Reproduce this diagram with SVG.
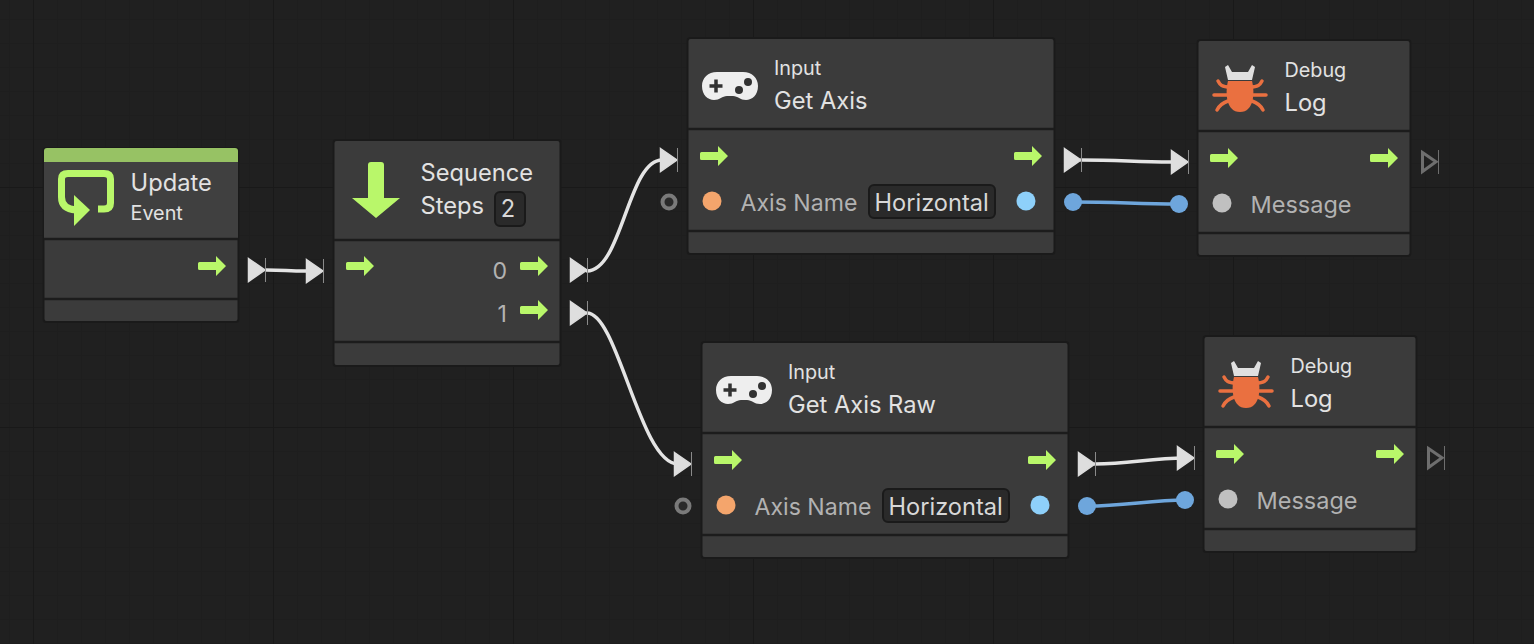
<svg xmlns="http://www.w3.org/2000/svg" width="1534" height="644" viewBox="0 0 1534 644">
<style>
text{font-family:Inter,"Noto Sans","Liberation Sans",sans-serif}
.card{fill:#3b3b3b;stroke:#1a1a1a;stroke-width:2}
.div{stroke:#1c1c1c;stroke-width:2.500}
.bar{fill:#97c264}
.t1{font-size:23.700px;fill:#e2e2e2}
.t2{font-size:19.800px;fill:#e2e2e2}
.lab{font-size:23.100px;fill:#b2b2b2}
.msg{font-size:23.500px;fill:#b2b2b2}
.field{fill:#2a2a2a;stroke:#1a1a1a;stroke-width:2}
.val{font-size:23.600px;fill:#d8d8d8}
.wire{fill:none;stroke:#e4e4e4;stroke-width:3.500;stroke-linecap:round}
.wblue{fill:none;stroke:#6ea6dc;stroke-width:3.500;stroke-linecap:round}
.soft{filter:url(#soft)}
</style>
<defs>
<filter id="soft" x="-30%" y="-30%" width="160%" height="160%"><feGaussianBlur stdDeviation="0.600"/></filter>
<pattern id="minor" x="33" y="43" width="24" height="24" patternUnits="userSpaceOnUse"><path d="M0.500 0V24M0 0.500H24" stroke="#1e1e1e" stroke-width="1" fill="none"/></pattern>
<path id="exec" d="M1.500-4H18V-10L28 0 18 10V4H1.500Q0 4 0 2.500V-2.500Q0-4 1.500-4Z" fill="#b9f76a"/>
<g id="ctrl"><path d="M0.500-11.500L17 0 0.500 11.500Z" fill="#dedede" stroke="#dedede" stroke-width="1.500" class="soft"/><path d="M17.500-12V12" stroke="#8a8a8a" stroke-width="1" fill="none"/></g>
<g id="ctrlOpen"><path d="M1.500-9.500L15-0.200 1.500 9.500Z" fill="none" stroke="#6e6e6e" stroke-width="3" class="soft"/><path d="M17.500-12V12" stroke="#6e6e6e" stroke-width="1" fill="none"/></g>
<circle id="ring" r="6.500" fill="#2a2a2a" stroke="#7a7a7a" stroke-width="4" class="soft"/>
<circle id="blue" r="9" fill="#6ea6dc" class="soft"/>
<g id="pad" class="soft"><path d="M15 0H41C50 0 56 6 56 14 56 23 50 28 44 28 38 28 36 24 31 24H25C20 24 18 28 12 28 6 28 0 23 0 14 0 6 6 0 15 0Z" fill="#eeeeee"/><path d="M14 7.500V20.500M7.500 14H20.500" stroke="#333" stroke-width="3.500" fill="none"/><circle cx="46" cy="10" r="4" fill="#333"/><circle cx="37" cy="18" r="4" fill="#333"/></g>
<g id="bug" class="soft"><path d="M14 2L18 9H34L38 2 41 4 38 17H14L11 4Z" fill="#e0e0e0"/><path d="M14 18H38C41 30 40 49 26 49 12 49 11 30 14 18Z" fill="#ea7040"/><path d="M16 24C8 24 6 22 4 18M36 24C44 24 46 22 48 18M0 32H52M14 38C8 40 5 43 3 47M38 38C44 40 47 43 49 47" stroke="#ea7040" stroke-width="3.500" fill="none" stroke-linecap="round"/></g>
</defs>
<rect width="1534" height="644" fill="#202020"/>
<rect width="1534" height="644" fill="url(#minor)"/>
<path d="M33.500 0V644M273.500 0V644M513.500 0V644M753.500 0V644M993.500 0V644M1233.500 0V644M1473.500 0V644M0 187.500H1534M0 427.500H1534" stroke="#191919" stroke-width="1" fill="none"/>

<g id="connectors">
<path class="wire" d="M266 270C285 270 287 271 306 271"/>
<use href="#ctrl" x="248" y="270"/><use href="#ctrl" x="306" y="271"/>
<path class="wire" d="M587 271C622 271 628 160 662 160"/>
<use href="#ctrl" x="570" y="270"/><use href="#ctrl" x="660" y="160"/>
<path class="wire" d="M587 313C618 313 640 464 678 464"/>
<use href="#ctrl" x="570" y="313"/><use href="#ctrl" x="674" y="464"/>
<use href="#ring" x="669" y="202"/><use href="#ring" x="683" y="506"/>
<path class="wire" d="M1081 160C1120 160 1135 162 1171 162"/>
<use href="#ctrl" x="1064" y="160"/><use href="#ctrl" x="1171" y="162"/>
<path class="wblue" d="M1073 202C1120 202 1135 204 1179 204"/>
<use href="#blue" x="1073" y="202"/><use href="#blue" x="1179" y="204"/>
<use href="#ctrlOpen" x="1421" y="162"/>
<path class="wire" d="M1095 464C1130 464 1150 458 1185 458"/>
<use href="#ctrl" x="1078" y="464"/><use href="#ctrl" x="1177" y="458"/>
<path class="wblue" d="M1087 506C1125 506 1150 500 1185 500"/>
<use href="#blue" x="1087" y="506"/><use href="#blue" x="1185" y="500"/>
<use href="#ctrlOpen" x="1427" y="458"/>
</g>

<g id="node-update">
<rect class="card" x="43.500" y="148" width="195" height="174" rx="3"/>
<rect x="44" y="162" width="194" height="77" fill="#404040"/>
<path class="bar" d="M44 162V151Q44 148 47 148H235Q238 148 238 151V162Z"/>
<g class="soft">
<path d="M98 209H104Q110.500 209 110.500 203V179Q110.500 173.500 104 173.500H68Q61.500 173.500 61.500 179V197Q61.500 209 76 210" fill="none" stroke="#b9f76a" stroke-width="7"/>
<path d="M74 195L90 210 74 226Z" fill="#b9f76a"/>
</g>
<text class="t1" x="130.500" y="191">Update</text>
<text class="t2" x="130.500" y="220">Event</text>
<path class="div" d="M44 239H238M44 299H238"/>
<use href="#exec" x="198" y="266"/>
</g>

<g id="node-sequence">
<rect class="card" x="333.500" y="140" width="227" height="226" rx="3"/>
<path class="soft" d="M371 162H381Q384 162 384 165V198H400L376 218 352 198H368V165Q368 162 371 162Z" fill="#b9f76a"/>
<text class="t1" x="420.500" y="181">Sequence</text>
<text class="t1" x="420.500" y="214">Steps</text>
<rect class="field" x="495" y="192" width="30" height="34" rx="5"/>
<text class="val" x="508" y="217" text-anchor="middle">2</text>
<path class="div" d="M334 240H560M334 342H560"/>
<use href="#exec" x="346" y="266"/>
<text class="lab" x="507" y="279" text-anchor="end">0</text>
<use href="#exec" x="520" y="266"/>
<text class="lab" x="507" y="322" text-anchor="end">1</text>
<use href="#exec" x="520" y="310"/>
</g>

<g id="node-get-axis">
<rect class="card" x="687.500" y="38" width="367" height="216" rx="3"/>
<use href="#pad" x="702" y="72"/>
<text class="t2" x="774" y="75">Input</text>
<text class="t1" x="774" y="109">Get Axis</text>
<path class="div" d="M688 129H1054M688 231H1054"/>
<use href="#exec" x="700" y="156"/><use href="#exec" x="1014" y="156"/>
<circle cx="712" cy="201" r="9.500" fill="#f4a56c"/>
<text class="lab" x="740.500" y="211">Axis Name</text>
<rect class="field" x="869" y="185" width="126" height="33" rx="5"/>
<text class="val" x="874.500" y="211">Horizontal</text>
<circle cx="1026" cy="201" r="9.500" fill="#8ed0fa"/>
</g>

<g id="node-log-1">
<rect class="card" x="1197.500" y="40" width="213" height="216" rx="3"/>
<use href="#bug" x="1214" y="63"/>
<text class="t2" x="1284.500" y="77">Debug</text>
<text class="t1" x="1284.500" y="111">Log</text>
<path class="div" d="M1198 131H1410M1198 233H1410"/>
<use href="#exec" x="1210" y="158"/><use href="#exec" x="1370" y="158"/>
<circle cx="1222" cy="203" r="9.500" fill="#c0c0c0"/>
<text class="msg" x="1250.500" y="213">Message</text>
</g>

<g id="node-get-axis-raw">
<rect class="card" x="701.500" y="342" width="367" height="216" rx="3"/>
<use href="#pad" x="716" y="376"/>
<text class="t2" x="788" y="379">Input</text>
<text class="t1" x="788" y="413">Get Axis Raw</text>
<path class="div" d="M702 433H1068M702 535H1068"/>
<use href="#exec" x="714" y="460"/><use href="#exec" x="1028" y="460"/>
<circle cx="726" cy="505" r="9.500" fill="#f4a56c"/>
<text class="lab" x="754.500" y="515">Axis Name</text>
<rect class="field" x="883" y="489" width="126" height="33" rx="5"/>
<text class="val" x="888.500" y="515">Horizontal</text>
<circle cx="1040" cy="505" r="9.500" fill="#8ed0fa"/>
</g>

<g id="node-log-2">
<rect class="card" x="1203.500" y="336" width="213" height="216" rx="3"/>
<use href="#bug" x="1220" y="359"/>
<text class="t2" x="1290.500" y="373">Debug</text>
<text class="t1" x="1290.500" y="407">Log</text>
<path class="div" d="M1204 427H1416M1204 529H1416"/>
<use href="#exec" x="1216" y="454"/><use href="#exec" x="1376" y="454"/>
<circle cx="1228" cy="499" r="9.500" fill="#c0c0c0"/>
<text class="msg" x="1256.500" y="509">Message</text>
</g>
</svg>
